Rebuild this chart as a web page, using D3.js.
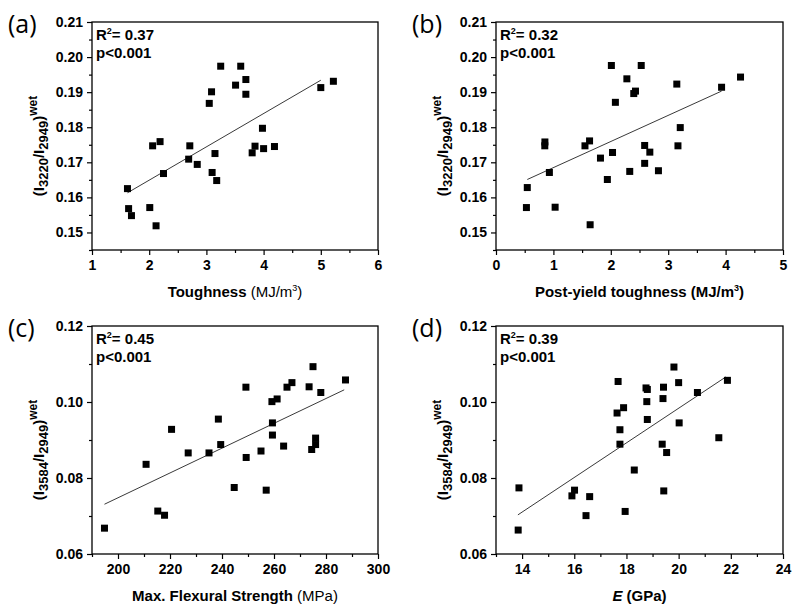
<!DOCTYPE html>
<html><head><meta charset="utf-8">
<script src="https://cdn.jsdelivr.net/npm/d3@7"></script>
<style>body{margin:0;background:#fff} svg{display:block}</style>
</head><body><svg id="chart" width="800" height="610"></svg>
<script>
// ---- data ----
const toughness = [1.62,1.64,1.69,2.01,2.06,2.12,2.19,2.25,2.69,2.71,2.84,3.05,3.09,3.10,3.15,3.18,3.25,3.51,3.60,3.69,3.69,3.80,3.85,3.98,4.00,4.19,5.00,5.22];
const ratio3220A = [0.1625,0.1568,0.1548,0.1571,0.1747,0.1519,0.1759,0.1668,0.1709,0.1747,0.1694,0.1868,0.1901,0.1671,0.1725,0.1648,0.1974,0.1920,0.1974,0.1936,0.1894,0.1727,0.1746,0.1797,0.1739,0.1745,0.1913,0.1931];
const postYield = [0.53,0.545,0.85,0.852,0.93,1.03,1.55,1.63,1.64,1.82,1.94,2.01,2.03,2.08,2.28,2.33,2.40,2.43,2.53,2.59,2.59,2.68,2.83,3.15,3.17,3.21,3.93,4.26];
const ratio3220B = [0.1571,0.1628,0.1747,0.1758,0.1671,0.1572,0.1747,0.1761,0.1522,0.1712,0.1651,0.1976,0.1728,0.1871,0.1938,0.1674,0.1896,0.1903,0.1976,0.1748,0.1697,0.1729,0.1676,0.1923,0.1747,0.1799,0.1914,0.1943];
const flexStrength = [194.8,210.8,215.3,217.9,220.6,227.0,235.0,238.6,239.5,244.7,249.2,249.3,255.0,257.0,259.2,259.4,259.4,261.2,263.7,265.0,266.9,273.5,275.0,274.5,276.0,276.0,278.0,287.5];
const ratio3584C = [0.0668,0.0836,0.0713,0.0702,0.0928,0.0866,0.0866,0.0955,0.0888,0.0775,0.1039,0.0854,0.0871,0.0768,0.1001,0.0945,0.0913,0.1008,0.0884,0.1039,0.1051,0.1040,0.1093,0.0875,0.0888,0.0905,0.1025,0.1058];
const modulusE = [13.85,13.88,15.91,16.01,16.45,16.59,17.64,17.68,17.75,17.75,17.89,17.95,18.30,18.75,18.78,18.80,18.80,19.37,19.40,19.42,19.43,19.54,19.82,20.00,20.02,20.72,21.54,21.87];
const ratio3584D = [0.0663,0.0774,0.0753,0.0768,0.0701,0.0751,0.0971,0.1054,0.0927,0.0889,0.0985,0.0712,0.0821,0.1037,0.1001,0.1033,0.0954,0.0889,0.1009,0.1039,0.0766,0.0867,0.1092,0.1051,0.0945,0.1025,0.0906,0.1057];

const fitAX = [1.62, 5.00], fitAY = [0.1613, 0.1934];
const fitBX = [0.545, 3.93], fitBY = [0.1651, 0.1903];
const fitCX = [194.8, 287.0], fitCY = [0.0731, 0.1032];
const fitDX = [13.84, 21.81], fitDY = [0.0703, 0.1066];

const r2Values = ["0.37", "0.32", "0.45", "0.39"];
const pText = "p<0.001";
const panelLabels = ["(a)", "(b)", "(c)", "(d)"];

const xTicksA = [1,2,3,4,5,6], xMinorA = [1.5,2.5,3.5,4.5,5.5];
const xTicksB = [0,1,2,3,4,5], xMinorB = [0.5,1.5,2.5,3.5,4.5];
const xTicksC = [200,220,240,260,280,300], xMinorC = [190,210,230,250,270,290];
const xTicksD = [14,16,18,20,22,24], xMinorD = [13,15,17,19,21,23];
const yTicksTop = [0.15,0.16,0.17,0.18,0.19,0.20,0.21], yMinorTop = [0.145,0.155,0.165,0.175,0.185,0.195,0.205];
const yTicksBottom = [0.06,0.08,0.10,0.12], yMinorBottom = [0.07,0.09,0.11];

// ---- layout ----
const FONT = "'Liberation Sans', Arial, sans-serif";
const panels = [
  {lab:panelLabels[0], xs:toughness, ys:ratio3220A, fx:fitAX, fy:fitAY, r2:r2Values[0], left:92, top:22, w:286, h:228,
   xd:[1,6], yd:[0.145,0.21], xM:xTicksA, xm:xMinorA, yM:yTicksTop, ym:yMinorTop, sub:["3220","2949"],
   xt:[{t:"Toughness",b:true},{t:" (MJ/m",b:false},{t:"3",b:false,sup:true},{t:")",b:false}]},
  {lab:panelLabels[1], xs:postYield, ys:ratio3220B, fx:fitBX, fy:fitBY, r2:r2Values[1], left:496, top:22, w:287, h:228,
   xd:[0,5], yd:[0.145,0.21], xM:xTicksB, xm:xMinorB, yM:yTicksTop, ym:yMinorTop, sub:["3220","2949"],
   xt:[{t:"Post-yield toughness (MJ/m",b:true},{t:"3",b:true,sup:true},{t:")",b:true}]},
  {lab:panelLabels[2], xs:flexStrength, ys:ratio3584C, fx:fitCX, fy:fitCY, r2:r2Values[2], left:92, top:326, w:286, h:228,
   xd:[190,300], yd:[0.06,0.12], xM:xTicksC, xm:xMinorC, yM:yTicksBottom, ym:yMinorBottom, sub:["3584","2949"],
   xt:[{t:"Max. Flexural Strength",b:true},{t:" (MPa)",b:false}]},
  {lab:panelLabels[3], xs:modulusE, ys:ratio3584D, fx:fitDX, fy:fitDY, r2:r2Values[3], left:496, top:326, w:287, h:228,
   xd:[13,24], yd:[0.06,0.12], xM:xTicksD, xm:xMinorD, yM:yTicksBottom, ym:yMinorBottom, sub:["3584","2949"],
   xt:[{t:"E",b:true,i:true},{t:" (GPa)",b:true}]}
];

const svg = d3.select("#chart");

panels.forEach(p => {
  const g = svg.append("g").attr("transform", `translate(${p.left},${p.top})`);
  const x = d3.scaleLinear().domain(p.xd).range([0, p.w]);
  const y = d3.scaleLinear().domain(p.yd).range([p.h, 0]);

  const styleAxis = s => {
    s.select(".domain").remove();
    s.selectAll(".tick line").attr("stroke", "#000").attr("stroke-width", 1.2);
    s.selectAll(".tick text").attr("fill", "#000").style("font-family", FONT)
      .style("font-size", "14px").style("font-weight", "bold");
  };

  // minor ticks
  g.append("g").attr("transform", `translate(0,${p.h})`)
    .call(d3.axisBottom(x).tickValues(p.xm).tickSize(3).tickFormat("").tickSizeOuter(0)).call(styleAxis);
  g.append("g")
    .call(d3.axisLeft(y).tickValues(p.ym).tickSize(3).tickFormat("").tickSizeOuter(0)).call(styleAxis);
  // major ticks
  g.append("g").attr("transform", `translate(0,${p.h})`)
    .call(d3.axisBottom(x).tickValues(p.xM).tickSize(5).tickPadding(5).tickFormat(d3.format("d")).tickSizeOuter(0)).call(styleAxis);
  g.append("g")
    .call(d3.axisLeft(y).tickValues(p.yM).tickSize(5).tickPadding(4).tickFormat(d3.format(".2f")).tickSizeOuter(0)).call(styleAxis);

  // frame
  g.append("rect").attr("x", 0).attr("y", 0).attr("width", p.w).attr("height", p.h)
    .attr("fill", "none").attr("stroke", "#000").attr("stroke-width", 1.3);

  // fit line
  const line = d3.line().x(d => x(d[0])).y(d => y(d[1]));
  g.append("path").datum(d3.zip(p.fx, p.fy)).attr("d", line)
    .attr("fill", "none").attr("stroke", "#222").attr("stroke-width", 0.9);

  // points
  const s = 7;
  g.selectAll("rect.pt").data(d3.zip(p.xs, p.ys)).join("rect").attr("class", "pt")
    .attr("x", d => x(d[0]) - s/2).attr("y", d => y(d[1]) - s/2)
    .attr("width", s).attr("height", s).attr("fill", "#000");

  // annotation
  const t1 = g.append("text").attr("x", 4).attr("y", 17.5)
    .style("font-family", FONT).style("font-size", "15px").style("font-weight", "bold").attr("fill", "#000");
  t1.append("tspan").text("R");
  t1.append("tspan").attr("dy", -6).style("font-size", "9px").text("2");
  t1.append("tspan").attr("dy", 6).text("= " + p.r2);
  g.append("text").attr("x", 4).attr("y", 35.5)
    .style("font-family", FONT).style("font-size", "15px").style("font-weight", "bold").attr("fill", "#000")
    .text(pText);

  // x title
  const xt = g.append("text").attr("x", p.w/2).attr("y", p.h + 47).attr("text-anchor", "middle")
    .style("font-family", FONT).style("font-size", "15px").attr("fill", "#000");
  let raised = false;
  p.xt.forEach(part => {
    const ts = xt.append("tspan").text(part.t).style("font-weight", part.b ? "bold" : "normal");
    if (part.i) ts.style("font-style", "italic");
    if (part.sup) { ts.attr("dy", -6).style("font-size", "9px"); raised = true; }
    else if (raised) { ts.attr("dy", 6); raised = false; }
  });

  // y title
  const yt = g.append("text").attr("transform", `translate(${-48},${124}) rotate(-90)`)
    .attr("text-anchor", "middle")
    .style("font-family", FONT).style("font-size", "15px").style("font-weight", "bold").attr("fill", "#000");
  yt.append("tspan").text("(I");
  yt.append("tspan").attr("dy", 4).style("font-size", "13px").text(p.sub[0]);
  yt.append("tspan").attr("dy", -4).text("/I");
  yt.append("tspan").attr("dy", 4).style("font-size", "13px").text(p.sub[1]);
  yt.append("tspan").attr("dy", -4).text(")");
  yt.append("tspan").attr("dy", -7).style("font-size", "12px").text("wet");

  // panel label
  svg.append("text").attr("x", p.left - 84).attr("y", p.top + 11)
    .style("font-family", "'Open Sans', sans-serif").style("font-size", "25px").attr("fill", "#000")
    .text(p.lab);
});
</script>
</body></html>
